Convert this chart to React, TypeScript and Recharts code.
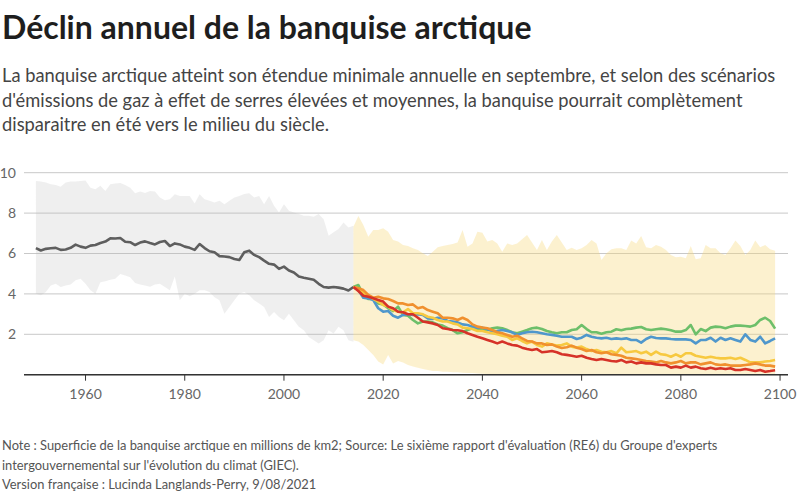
import { ComposedChart, Area, Line, XAxis, YAxis, CartesianGrid } from 'recharts';

// Observed period 1950-2014
const histYears = [
  1950, 1951, 1952, 1953, 1954, 1955, 1956, 1957, 1958, 1959,
  1960, 1961, 1962, 1963, 1964, 1965, 1966, 1967, 1968, 1969,
  1970, 1971, 1972, 1973, 1974, 1975, 1976, 1977, 1978, 1979,
  1980, 1981, 1982, 1983, 1984, 1985, 1986, 1987, 1988, 1989,
  1990, 1991, 1992, 1993, 1994, 1995, 1996, 1997, 1998, 1999,
  2000, 2001, 2002, 2003, 2004, 2005, 2006, 2007, 2008, 2009,
  2010, 2011, 2012, 2013, 2014,
];
const histMean = [
  6.27, 6.15, 6.23, 6.26, 6.28, 6.18, 6.2, 6.28, 6.44, 6.34,
  6.28, 6.39, 6.42, 6.52, 6.59, 6.75, 6.74, 6.77, 6.58, 6.56,
  6.42, 6.54, 6.6, 6.52, 6.45, 6.57, 6.62, 6.37, 6.5, 6.45,
  6.34, 6.28, 6.18, 6.47, 6.27, 6.11, 6.06, 5.87, 5.85, 5.82,
  5.73, 5.68, 6.06, 6.14, 5.93, 5.82, 5.65, 5.49, 5.45, 5.24,
  5.35, 5.16, 5.06, 4.86, 4.8, 4.75, 4.7, 4.5, 4.34, 4.31,
  4.34, 4.31, 4.26, 4.17, 4.34,
];
const histHigh = [
  9.59, 9.56, 9.51, 9.43, 9.39, 9.3, 9.51, 9.56, 9.56, 9.59,
  9.62, 9.26, 9.18, 9.35, 9.1, 9.43, 9.46, 9.49, 9.39, 9.26,
  8.98, 9.07, 9.0, 9.1, 9.07, 8.77, 8.64, 8.69, 8.93, 8.85,
  8.85, 8.85, 8.48, 8.93, 8.69, 8.61, 8.52, 8.61, 8.44, 8.61,
  8.77, 8.85, 8.94, 8.98, 8.77, 8.85, 8.44, 8.85, 8.36, 8.03,
  8.44, 8.12, 8.03, 7.95, 7.87, 7.87, 7.82, 7.95, 7.7, 6.88,
  7.05, 7.21, 7.54, 7.29, 7.37,
];
const histLow = [
  4.01, 3.93, 4.09, 4.41, 4.5, 4.34, 4.41, 4.46, 4.67, 4.75,
  4.5, 4.18, 4.01, 4.58, 4.63, 4.7, 4.75, 4.99, 4.91, 4.83,
  4.54, 4.46, 4.41, 4.36, 4.46, 4.5, 4.34, 4.18, 4.86, 3.68,
  4.01, 3.88, 4.01, 4.18, 4.18, 4.09, 3.84, 3.68, 3.02, 3.35,
  3.68, 4.01, 4.09, 3.93, 3.68, 3.52, 3.35, 2.86, 3.11, 2.86,
  2.69, 3.02, 2.69, 2.37, 2.2, 1.87, 1.71, 1.54, 1.71, 2.2,
  2.04, 2.37, 2.2, 1.71, 1.63,
];

// Scenario projections 2014-2099
const projYears = [
  2014, 2015, 2016, 2017, 2018, 2019, 2020, 2021, 2022, 2023, 2024, 2025,
  2026, 2027, 2028, 2029, 2030, 2031, 2032, 2033, 2034, 2035, 2036, 2037,
  2038, 2039, 2040, 2041, 2042, 2043, 2044, 2045, 2046, 2047, 2048, 2049,
  2050, 2051, 2052, 2053, 2054, 2055, 2056, 2057, 2058, 2059, 2060, 2061,
  2062, 2063, 2064, 2065, 2066, 2067, 2068, 2069, 2070, 2071, 2072, 2073,
  2074, 2075, 2076, 2077, 2078, 2079, 2080, 2081, 2082, 2083, 2084, 2085,
  2086, 2087, 2088, 2089, 2090, 2091, 2092, 2093, 2094, 2095, 2096, 2097,
  2098, 2099,
];
const ssp119 = [
  4.34, 4.44, 3.95, 3.75, 3.75, 3.53, 3.48, 3.29, 3.15, 3.37, 2.96, 2.92,
  2.71, 2.54, 2.63, 2.63, 2.59, 2.49, 2.43, 2.3, 2.21, 2.05, 2.1, 2.21,
  2.3, 2.26, 2.21, 2.21, 2.3, 2.33, 2.3, 2.21, 2.1, 2.05, 2.13, 2.21,
  2.3, 2.33, 2.26, 2.16, 2.1, 2.05, 2.1, 2.1, 2.21, 2.25, 2.46, 2.26,
  2.1, 2.1, 2.03, 2.1, 2.13, 2.25, 2.2, 2.26, 2.28, 2.33, 2.36, 2.25,
  2.21, 2.25, 2.28, 2.25, 2.2, 2.13, 2.13, 2.21, 2.46, 2.0, 2.26, 2.16,
  2.33, 2.38, 2.36, 2.3, 2.38, 2.43, 2.43, 2.41, 2.38, 2.46, 2.71, 2.82,
  2.66, 2.28,
];
const ssp126 = [
  4.34, 4.19, 3.81, 3.78, 3.7, 3.29, 3.12, 3.15, 2.92, 2.82, 2.96, 2.99,
  2.96, 2.99, 2.96, 2.79, 2.76, 2.82, 2.79, 2.66, 2.63, 2.59, 2.49, 2.46,
  2.38, 2.33, 2.33, 2.26, 2.13, 2.16, 2.21, 2.16, 2.1, 1.97, 2.05, 2.1,
  2.13, 2.1, 2.05, 2.0, 1.97, 1.93, 1.88, 1.88, 1.88, 1.77, 1.83, 1.97,
  1.88, 1.83, 1.8, 1.83, 1.77, 1.8, 1.77, 1.8, 1.72, 1.72, 1.59, 1.77,
  1.88, 1.82, 1.8, 1.8, 1.77, 1.75, 1.75, 1.75, 1.72, 1.55, 1.72, 1.72,
  1.83, 1.64, 1.83, 1.72, 1.8, 1.72, 1.64, 2.0, 1.72, 1.64, 1.88, 1.55,
  1.67, 1.8,
];
const ssp245 = [
  4.34, 4.28, 4.03, 3.91, 3.75, 3.62, 3.45, 3.37, 3.2, 3.12, 3.09, 3.25,
  3.04, 3.04, 2.99, 2.87, 2.82, 2.71, 2.63, 2.63, 2.54, 2.49, 2.33, 2.3,
  2.26, 2.16, 2.16, 2.1, 2.05, 2.0, 1.93, 1.88, 1.72, 1.8, 1.67, 1.55,
  1.64, 1.47, 1.39, 1.55, 1.5, 1.44, 1.47, 1.55, 1.39, 1.34, 1.39, 1.27,
  1.17, 1.22, 1.14, 1.11, 1.17, 1.06, 1.34, 1.11, 1.14, 1.17, 1.06, 1.14,
  0.98, 1.14, 1.01, 0.98, 0.89, 1.01, 0.89, 1.06, 1.06, 0.94, 0.89, 0.84,
  0.89, 0.84, 0.81, 0.81, 0.84, 0.78, 0.84, 0.73, 0.61, 0.61, 0.61, 0.65,
  0.68, 0.73,
];
const ssp370 = [
  4.34, 4.28, 4.19, 3.95, 3.81, 3.86, 3.78, 3.75, 3.65, 3.53, 3.53, 3.45,
  3.48, 3.29, 3.35, 3.2, 3.12, 3.04, 2.82, 2.82, 2.79, 2.71, 2.82, 2.71,
  2.49, 2.38, 2.33, 2.3, 2.21, 2.1, 2.05, 1.97, 1.88, 1.93, 1.8, 1.67,
  1.64, 1.55, 1.55, 1.47, 1.5, 1.39, 1.32, 1.36, 1.44, 1.34, 1.27, 1.17,
  1.22, 1.11, 1.06, 1.11, 1.01, 0.98, 0.94, 0.84, 0.81, 0.78, 0.73, 0.68,
  0.65, 0.61, 0.68, 0.61, 0.56, 0.61, 0.68, 0.56, 0.61, 0.61, 0.51, 0.56,
  0.61, 0.51, 0.48, 0.51, 0.45, 0.45, 0.45, 0.48, 0.51, 0.56, 0.51, 0.45,
  0.45, 0.4,
];
const ssp585 = [
  4.34, 4.14, 3.91, 3.86, 3.78, 3.7, 3.62, 3.37, 3.29, 3.12, 3.09, 2.99,
  2.99, 2.82, 2.63, 2.59, 2.54, 2.46, 2.3, 2.26, 2.21, 2.2, 2.16, 2.05,
  1.97, 1.88, 1.8, 1.72, 1.64, 1.55, 1.64, 1.55, 1.47, 1.44, 1.34, 1.27,
  1.22, 1.27, 1.11, 1.14, 1.17, 1.11, 1.01, 0.98, 0.94, 0.89, 0.94, 0.84,
  0.78, 0.73, 0.78, 0.73, 0.68, 0.65, 0.73, 0.61, 0.65, 0.56, 0.61, 0.56,
  0.56, 0.51, 0.48, 0.48, 0.35, 0.4, 0.35, 0.45, 0.35, 0.4, 0.32, 0.28,
  0.35, 0.28, 0.32, 0.28, 0.32, 0.23, 0.23, 0.28, 0.23, 0.18, 0.23, 0.15,
  0.18, 0.22,
];
const projHigh = [
  7.33, 7.86, 7.41, 6.83, 7.16, 7.16, 7.25, 7.08, 6.67, 6.59, 6.42, 6.37,
  6.26, 6.17, 6.01, 5.88, 6.09, 6.31, 6.37, 6.42, 6.47, 6.54, 7.16, 6.34,
  6.5, 7.08, 7.03, 6.59, 6.67, 6.5, 6.09, 6.5, 6.42, 6.5, 6.7, 6.92,
  6.54, 6.17, 6.67, 6.17, 6.59, 6.92, 6.54, 6.17, 6.29, 6.17, 6.26, 6.42,
  6.67, 6.5, 5.68, 6.01, 6.21, 6.26, 6.26, 6.17, 6.64, 6.5, 6.87, 6.31,
  6.26, 6.42, 6.34, 6.17, 5.93, 5.81, 5.84, 5.76, 6.37, 5.71, 5.76, 6.42,
  6.26, 6.26, 6.01, 5.93, 6.26, 6.64, 6.37, 5.93, 6.17, 6.64, 6.31, 6.42,
  6.21, 6.14,
];
const projLow = [
  1.7, 1.64, 1.47, 1.22, 0.97, 0.65, 0.51, 0.97, 0.56, 0.68, 0.61, 0.48,
  0.4, 0.35, 0.28, 0.23, 0.18, 0.18, 0.15, 0.15, 0.12, 0.12, 0.1, 0.08,
  0.08, 0.06, 0.05, 0.04, 0.03, 0.03, 0.02, 0.02, 0, 0, 0, 0,
  0, 0, 0, 0, 0, 0, 0, 0, 0, 0, 0, 0,
  0, 0, 0, 0, 0, 0, 0, 0, 0, 0, 0, 0,
  0, 0, 0, 0, 0, 0, 0, 0, 0, 0, 0, 0,
  0, 0, 0, 0, 0, 0, 0, 0, 0, 0, 0, 0,
  0, 0,
];

const xTicks = [1960, 1980, 2000, 2020, 2040, 2060, 2080, 2100];
const yTicks = [2, 4, 6, 8, 10];

const FONT = 'Lato, sans-serif';

type Row = { year: number; [k: string]: any };

function buildRows(): Row[] {
  const byYear = new Map<number, Row>();
  const get = (y: number) => {
    if (!byYear.has(y)) byYear.set(y, { year: y });
    return byYear.get(y)!;
  };
  histYears.forEach((y, i) => {
    const r = get(y);
    r.hist = histMean[i];
    r.histBand = [histLow[i], histHigh[i]];
  });
  projYears.forEach((y, i) => {
    const r = get(y);
    r.projBand = [projLow[i], projHigh[i]];
    r.ssp119 = ssp119[i];
    r.ssp126 = ssp126[i];
    r.ssp245 = ssp245[i];
    r.ssp370 = ssp370[i];
    r.ssp585 = ssp585[i];
  });
  return Array.from(byYear.values()).sort((a, b) => a.year - b.year);
}

const data = buildRows();

const scenarios = [
  { key: 'ssp119', color: '#6dbf6a' },
  { key: 'ssp126', color: '#4f97cc' },
  { key: 'ssp245', color: '#f7c940' },
  { key: 'ssp370', color: '#f0902e' },
  { key: 'ssp585', color: '#d63228' },
];

export default function App() {
  return (
    <div style={{ position: 'absolute', left: 0, top: 0, width: 800, height: 497, background: '#fff', fontFamily: FONT }}>
      <div style={{ position: 'absolute', left: 2, top: 11, fontSize: 32, lineHeight: '32px', fontWeight: 700, color: '#1e1e1e', whiteSpace: 'nowrap' }}>
        Déclin annuel de la banquise arctique
      </div>
      <div style={{ position: 'absolute', left: 2, top: 63, fontSize: 18.3, lineHeight: '24.5px', color: '#444', whiteSpace: 'nowrap' }}>
        <div>La banquise arctique atteint son étendue minimale annuelle en septembre, et selon des scénarios</div>
        <div>d'émissions de gaz à effet de serres élevées et moyennes, la banquise pourrait complètement</div>
        <div>disparaitre en été vers le milieu du siècle.</div>
      </div>

      <div style={{ position: 'absolute', left: 0, top: 160 }}>
        <ComposedChart width={800} height={250} data={data} margin={{ top: 12.7, right: 12, bottom: 5.3, left: 0 }}>
          <CartesianGrid vertical={false} stroke="#c8c8c8" strokeWidth={1} />
          <XAxis
            dataKey="year"
            type="number"
            domain={[1947.6, 2101.6]}
            ticks={xTicks}
            interval={0}
            height={30}
            axisLine={{ stroke: '#333', strokeWidth: 1.5 }}
            tickLine={{ stroke: '#333' }}
            tickSize={6}
            tickMargin={8}
            tick={{ fill: '#666', fontSize: 14, fontFamily: FONT }}
          />
          <YAxis
            type="number"
            domain={[0, 10]}
            ticks={yTicks}
            interval={0}
            width={24}
            axisLine={false}
            tickLine={false}
            tickSize={0}
            tickMargin={8}
            tick={{ fill: '#666', fontSize: 14, fontFamily: FONT }}
          />
          <Area dataKey="histBand" type="linear" stroke="none" fill="#b4b4b4" fillOpacity={0.22} isAnimationActive={false} />
          <Area dataKey="projBand" type="linear" stroke="none" fill="#f8d77a" fillOpacity={0.36} isAnimationActive={false} />
          <Line dataKey="hist" type="linear" stroke="#5e5e5e" strokeWidth={2.6} dot={false} strokeLinejoin="round" isAnimationActive={false} />
          {scenarios.map((s) => (
            <Line key={s.key} dataKey={s.key} type="linear" stroke={s.color} strokeWidth={2.6} dot={false} strokeLinejoin="round" isAnimationActive={false} />
          ))}
        </ComposedChart>
      </div>

      <div style={{ position: 'absolute', left: 2, top: 436, fontSize: 12.9, lineHeight: '19.5px', color: '#555', whiteSpace: 'nowrap' }}>
        <div>Note : Superficie de la banquise arctique en millions de km2; Source: Le sixième rapport d'évaluation (RE6) du Groupe d'experts</div>
        <div>intergouvernemental sur l'évolution du climat (GIEC).</div>
        <div>Version française : Lucinda Langlands-Perry, 9/08/2021</div>
      </div>
    </div>
  );
}
